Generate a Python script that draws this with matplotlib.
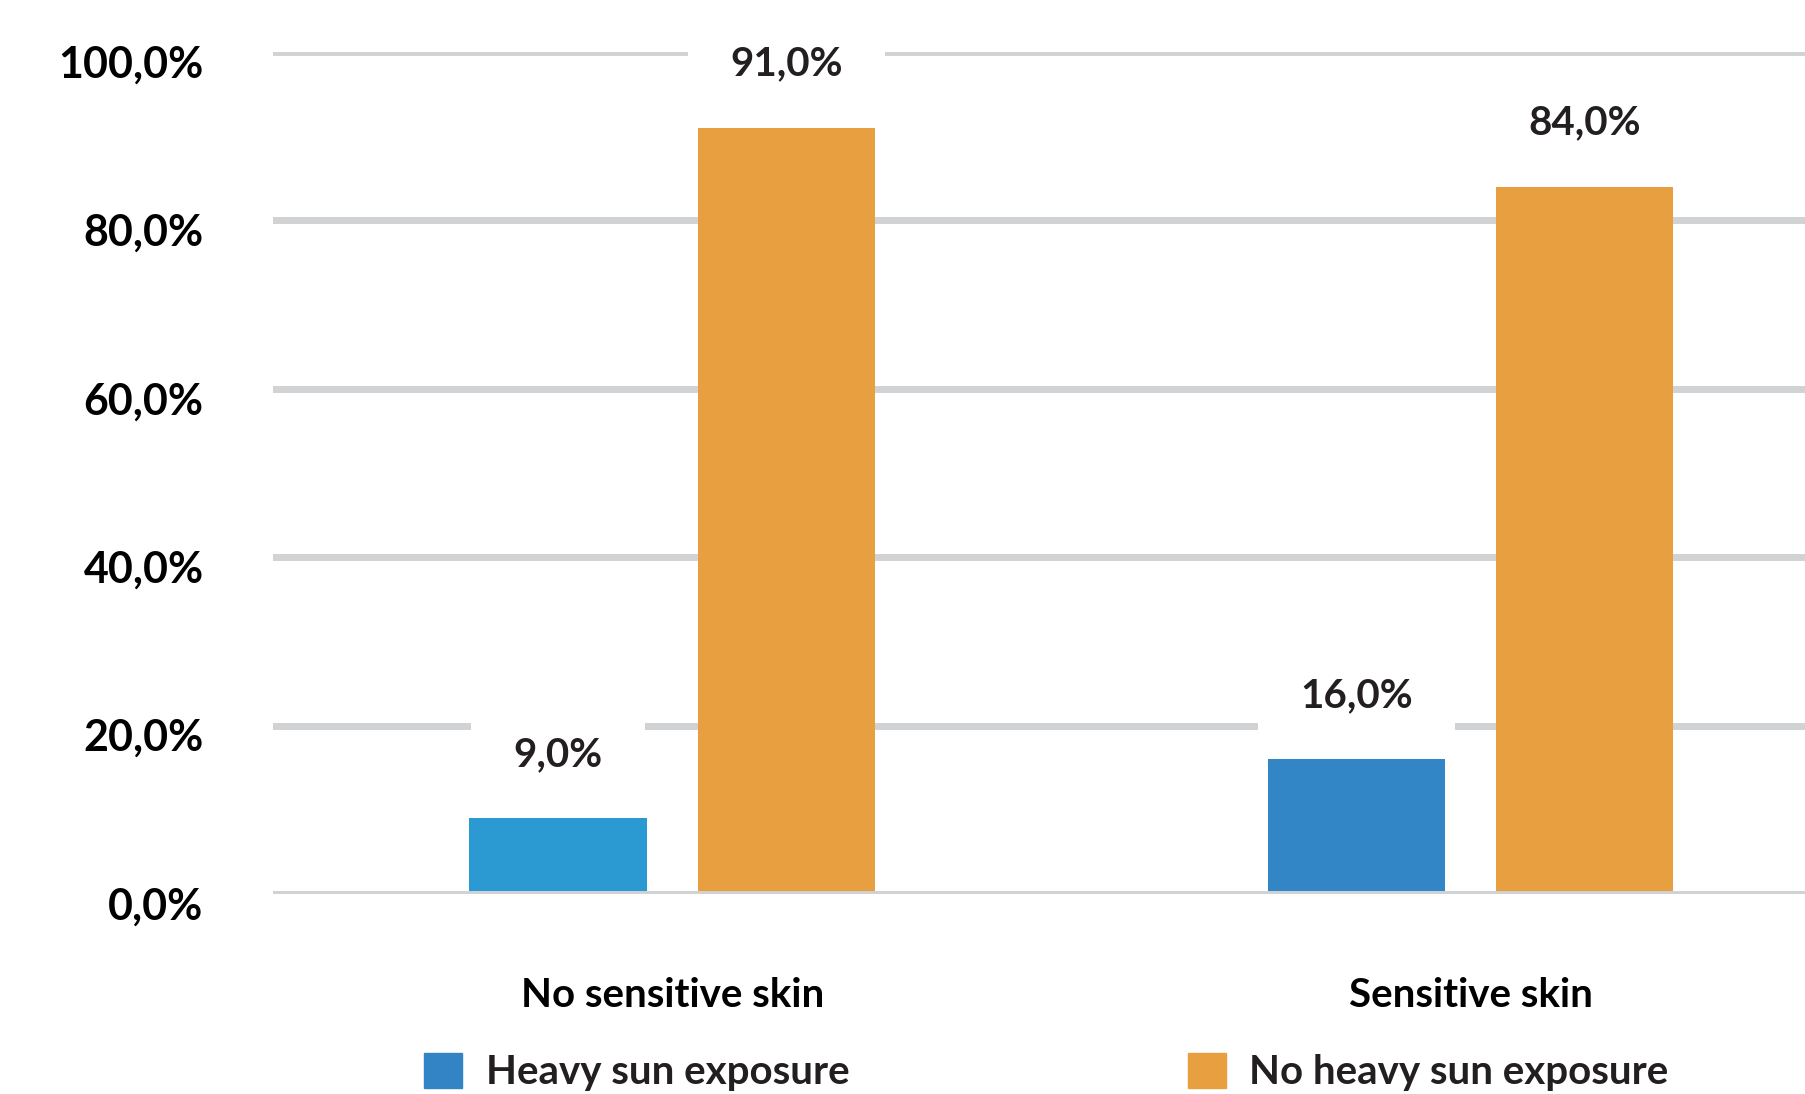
import matplotlib.pyplot as plt
import matplotlib.transforms as mtransforms
from matplotlib.patches import Patch

categories = ['No sensitive skin', 'Sensitive skin']
series_names = ['Heavy sun exposure', 'No heavy sun exposure']
heavy_sun = [9.0, 16.0]
no_heavy_sun = [91.0, 84.0]
y_ticks = [0, 20, 40, 60, 80, 100]

heavy_colors = ['#2B9AD2', '#3286C5']
legend_blue = '#3284C5'
orange = '#E89F40'
grid_color = '#D1D2D4'
text_color = '#231F20'

plt.rcParams['font.family'] = ['Lato', 'DejaVu Sans']
plt.rcParams['font.size'] = 29
plt.rcParams['text.color'] = text_color

fig = plt.figure(figsize=(18.06, 10.94), dpi=100)
ax = fig.add_axes([273 / 1806, 1 - 894 / 1094, 1 - 273 / 1806, (894 - 52) / 1094])

width = 0.222
offset = 0.143
x = list(range(len(categories)))

ax.bar([i - offset for i in x], heavy_sun, width, color=heavy_colors, zorder=2)
ax.bar([i + offset for i in x], no_heavy_sun, width, color=orange, zorder=2)

# value labels sit on white boxes that cut through the grid lines
for i in x:
    for xpos, val in ((i - offset, heavy_sun[i]), (i + offset, no_heavy_sun[i])):
        ax.annotate(f'{val:.1f}%'.replace('.', ','), (xpos, val),
                    xytext=(0, 46), textcoords='offset points',
                    ha='center', va='center', fontweight='bold',
                    bbox=dict(boxstyle='square,pad=1.05', fc='white', ec='none'),
                    zorder=4)

for t in y_ticks[1:]:
    ax.axhline(t, color=grid_color, lw=5, zorder=1)
ax.axhline(0, color=grid_color, lw=5, zorder=3)

ax.set_xlim(-0.5, 1.42)
ax.set_ylim(0, 100)
ax.set_yticks(y_ticks)
ax.set_yticklabels([f'{t:.1f}%'.replace('.', ',') for t in y_ticks],
                   fontweight='bold', fontsize=31)
ax.set_xticks(x)
ax.set_xticklabels(categories, fontweight='bold')
ax.tick_params(axis='y', length=0, pad=50)
ax.tick_params(axis='x', length=0, pad=60)
shift = mtransforms.ScaledTranslation(0, -9 / 100, fig.dpi_scale_trans)
for lab in ax.get_yticklabels():
    lab.set_transform(lab.get_transform() + shift)

for side in ax.spines.values():
    side.set_visible(False)

handles = [Patch(color=legend_blue), Patch(color=orange)]
fig.legend(handles, series_names, ncol=2, loc='center left',
           bbox_to_anchor=(424 / 1806, 1 - 1072 / 1094), frameon=False,
           handlelength=0.95, handleheight=0.95, handletextpad=0.58,
           columnspacing=8.4, borderpad=0, borderaxespad=0,
           prop={'weight': 'bold', 'size': 29})

fig.savefig('out.png', dpi=100)
